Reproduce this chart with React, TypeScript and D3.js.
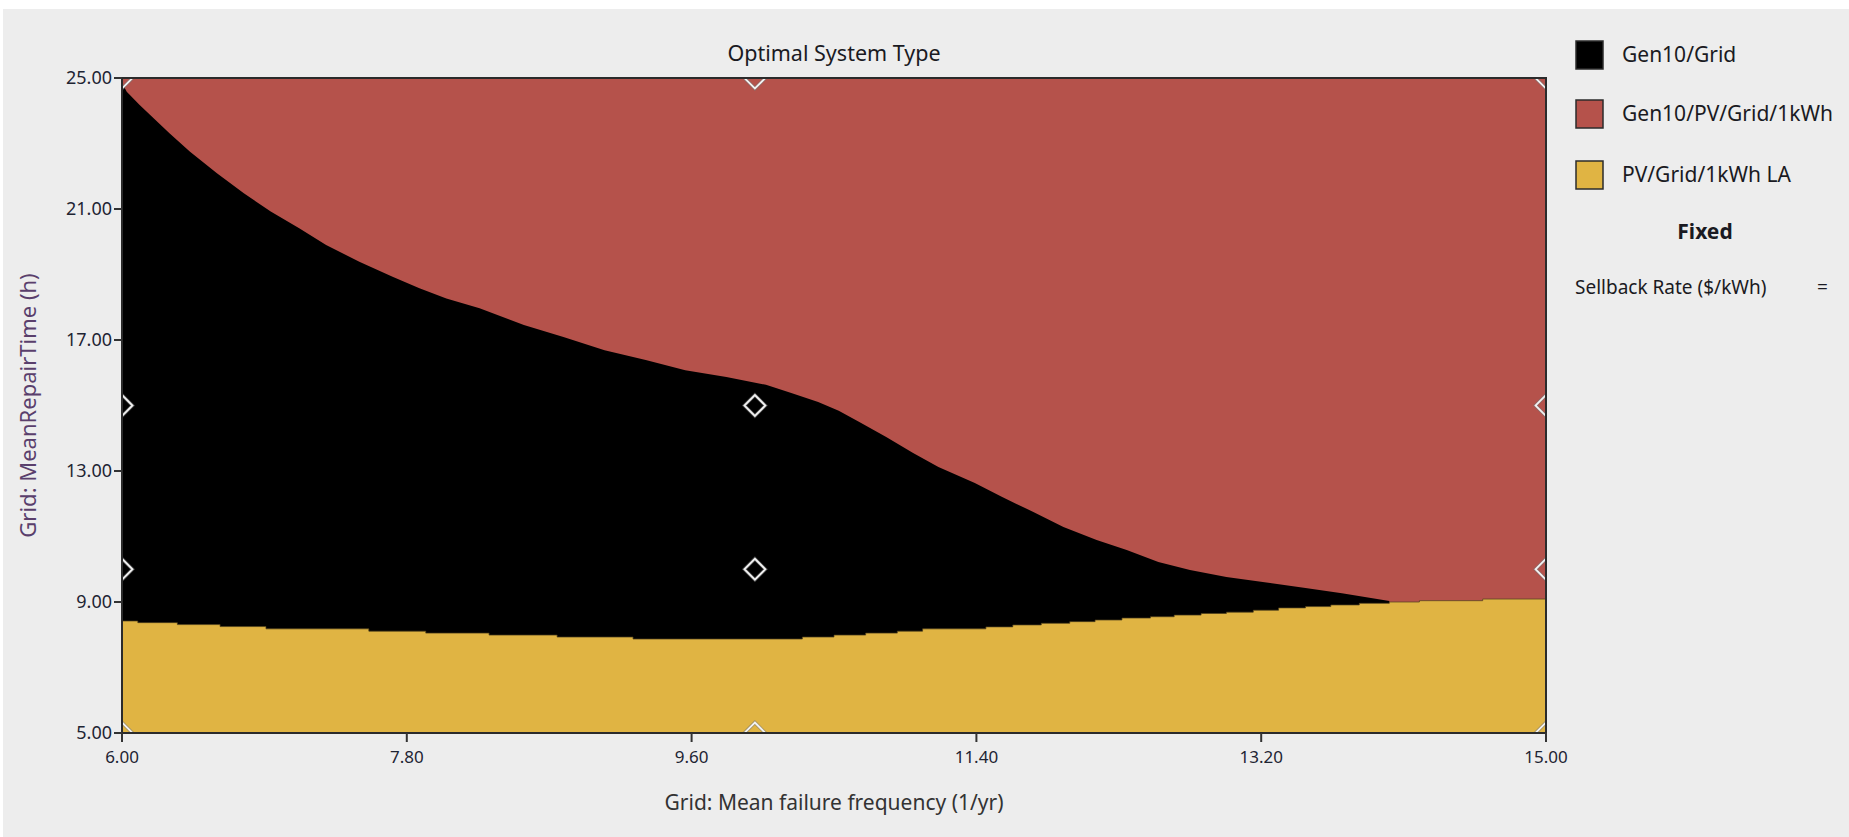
import React from "react";
import { scaleLinear, area, line, curveStepAfter, curveLinear } from "d3";

const WIDTH = 1849;
const HEIGHT = 837;
const PLOT = { left: 122, right: 1546, top: 78, bottom: 733 };
const FONT = "'Segoe UI', 'Noto Sans', sans-serif";

// x: Grid mean failure frequency (1/yr), y: Grid mean repair time (h)
const xTicks = [6.0, 7.8, 9.6, 11.4, 13.2, 15.0];
const yTicks = [5.0, 9.0, 13.0, 17.0, 21.0, 25.0];

// boundary between Gen10/Grid (below) and Gen10/PV/Grid/1kWh (above)
const redEdgeX = [
  6.0, 6.03, 6.11, 6.2, 6.3, 6.43, 6.6, 6.77, 6.94, 7.12, 7.29, 7.5, 7.71, 7.88,
  8.05, 8.26, 8.54, 8.79, 9.05, 9.31, 9.56, 9.82, 10.07, 10.23, 10.4, 10.53,
  10.66, 10.83, 11.0, 11.16, 11.39, 11.56, 11.76, 11.95, 12.16, 12.35, 12.55,
  12.75, 12.98, 13.21, 13.48, 13.71, 14.01,
];
const redEdgeY = [
  24.85, 24.58, 24.18, 23.77, 23.31, 22.75, 22.09, 21.48, 20.92, 20.41, 19.9,
  19.39, 18.93, 18.58, 18.27, 17.97, 17.46, 17.09, 16.69, 16.39, 16.08, 15.87,
  15.63, 15.38, 15.11, 14.84, 14.5, 14.04, 13.55, 13.12, 12.63, 12.21, 11.75,
  11.29, 10.89, 10.59, 10.22, 9.98, 9.76, 9.61, 9.43, 9.27, 9.03,
];

// top of the PV/Grid/1kWh LA region (stepped)
const yellowEdgeX = [
  6.0, 6.1, 6.35, 6.62, 6.91, 7.56, 7.92, 8.32, 8.75, 9.23, 10.3, 10.5, 10.7,
  10.9, 11.06, 11.46, 11.63, 11.81, 11.99, 12.15, 12.32, 12.5, 12.65, 12.82,
  12.98, 13.15, 13.31, 13.48, 13.64, 13.82, 14.01, 14.2, 14.6, 15.0,
];
const yellowEdgeY = [
  8.42, 8.37, 8.31, 8.25, 8.18, 8.11, 8.05, 7.99, 7.93, 7.87, 7.93, 7.99, 8.05,
  8.11, 8.18, 8.24, 8.3, 8.35, 8.4, 8.45, 8.51, 8.55, 8.6, 8.65, 8.69, 8.75,
  8.82, 8.86, 8.91, 8.96, 9.0, 9.04, 9.09, 9.09,
];

// sensitivity case markers
const markerX = [6.0, 10.0, 15.0];
const markerY = [5.0, 10.0, 15.0, 25.0];

const legendNames = ["Gen10/Grid", "Gen10/PV/Grid/1kWh", "PV/Grid/1kWh LA"];
const legendColors = ["#000000", "#b5524b", "#e0b443"];

export default function App() {
  const x = scaleLinear().domain([6, 15]).range([PLOT.left, PLOT.right]);
  const y = scaleLinear().domain([5, 25]).range([PLOT.bottom, PLOT.top]);

  const redPts = redEdgeX.map((v, i) => [v, redEdgeY[i]] as [number, number]);
  const yellowPts = yellowEdgeX.map((v, i) => [v, yellowEdgeY[i]] as [number, number]);

  const blackArea = area<[number, number]>()
    .x((d) => x(d[0]))
    .y0(y(5))
    .y1((d) => y(d[1]))
    .curve(curveLinear)(redPts) || "";

  const yellowArea = area<[number, number]>()
    .x((d) => x(d[0]))
    .y0(y(5))
    .y1((d) => y(d[1]))
    .curve(curveStepAfter)(yellowPts) || "";

  const yellowLine = line<[number, number]>()
    .x((d) => x(d[0]))
    .y((d) => y(d[1]))
    .curve(curveStepAfter)(yellowPts) || "";

  const plotW = PLOT.right - PLOT.left;
  const plotH = PLOT.bottom - PLOT.top;
  const midX = (PLOT.left + PLOT.right) / 2;
  const midY = (PLOT.top + PLOT.bottom) / 2;

  return (
    <div>
      <style>{`body{margin:0}`}</style>
      <svg width={WIDTH} height={HEIGHT} style={{ display: "block" }}>
        <defs>
          <clipPath id="plot-clip">
            <rect x={PLOT.left} y={PLOT.top} width={plotW} height={plotH} />
          </clipPath>
        </defs>
        <rect x={0} y={0} width={WIDTH} height={HEIGHT} fill="#ffffff" />
        <rect x={3} y={9} width={WIDTH - 3} height={HEIGHT - 9} fill="#ededed" />

        {/* title */}
        <text x={midX} y={61} textAnchor="middle" fontFamily={FONT} fontSize={21.5} fill="#1a1a22">
          Optimal System Type
        </text>

        {/* regions */}
        <g clipPath="url(#plot-clip)">
          <rect x={PLOT.left} y={PLOT.top} width={plotW} height={plotH} fill={legendColors[1]} />
          <path d={blackArea} fill={legendColors[0]} />
          <path d={yellowArea} fill={legendColors[2]} />
          <path d={yellowLine} fill="none" stroke="#4d3f1c" strokeWidth={1} strokeOpacity={0.7} />
          {markerX.map((mx) =>
            markerY.map((my) => {
              const cx = x(mx);
              const cy = y(my);
              const r = 10.5;
              const d = `M${cx},${cy - r}L${cx + r},${cy}L${cx},${cy + r}L${cx - r},${cy}Z`;
              return (
                <g key={`${mx}-${my}`}>
                  <path d={d} fill="none" stroke="#777" strokeWidth={3.5} strokeOpacity={0.6} />
                  <path d={d} fill="none" stroke="#f2f2f2" strokeWidth={1.8} />
                </g>
              );
            })
          )}
        </g>

        {/* frame */}
        <rect
          x={PLOT.left}
          y={PLOT.top}
          width={plotW}
          height={plotH}
          fill="none"
          stroke="#2b2b2b"
          strokeWidth={2}
        />

        {/* y axis */}
        {yTicks.map((t) => (
          <g key={`y${t}`}>
            <line x1={PLOT.left - 8} x2={PLOT.left} y1={y(t)} y2={y(t)} stroke="#333" strokeWidth={2} />
            <text
              x={PLOT.left - 10}
              y={y(t)}
              dy="0.35em"
              textAnchor="end"
              fontFamily={FONT}
              fontSize={18}
              fill="#1e2433"
            >
              {t.toFixed(2)}
            </text>
          </g>
        ))}
        <text
          transform={`translate(28,${midY}) rotate(-90)`}
          textAnchor="middle"
          dy="0.35em"
          fontFamily={FONT}
          fontSize={22}
          fill="#5a3f6c"
        >
          Grid: MeanRepairTime (h)
        </text>

        {/* x axis */}
        {xTicks.map((t) => (
          <g key={`x${t}`}>
            <line x1={x(t)} x2={x(t)} y1={PLOT.bottom} y2={PLOT.bottom + 9} stroke="#333" strokeWidth={2} />
            <text
              x={x(t)}
              y={PLOT.bottom + 24}
              dy="0.35em"
              textAnchor="middle"
              fontFamily={FONT}
              fontSize={17}
              fill="#1e2433"
            >
              {t.toFixed(2)}
            </text>
          </g>
        ))}
        <text
          x={midX}
          y={803}
          dy="0.35em"
          textAnchor="middle"
          fontFamily={FONT}
          fontSize={21}
          fill="#333"
        >
          Grid: Mean failure frequency (1/yr)
        </text>

        {/* legend */}
        {legendNames.map((name, i) => {
          const ly = [55, 114, 175][i];
          return (
            <g key={name}>
              <rect
                x={1576}
                y={ly - 14}
                width={27}
                height={28}
                fill={legendColors[i]}
                stroke="#2b2b2b"
                strokeWidth={1.5}
              />
              <text x={1622} y={ly} dy="0.35em" fontFamily={FONT} fontSize={21} fill="#1a1a22">
                {name}
              </text>
            </g>
          );
        })}
        <text
          x={1705}
          y={232}
          dy="0.35em"
          textAnchor="middle"
          fontFamily={FONT}
          fontSize={21}
          fontWeight="bold"
          fill="#1a1a22"
        >
          Fixed
        </text>
        <text x={1575} y={287} dy="0.35em" fontFamily={FONT} fontSize={19} fill="#1a1a22">
          Sellback Rate ($/kWh)
        </text>
        <text x={1817} y={287} dy="0.35em" fontFamily={FONT} fontSize={19} fill="#1a1a22">
          =
        </text>
      </svg>
    </div>
  );
}
